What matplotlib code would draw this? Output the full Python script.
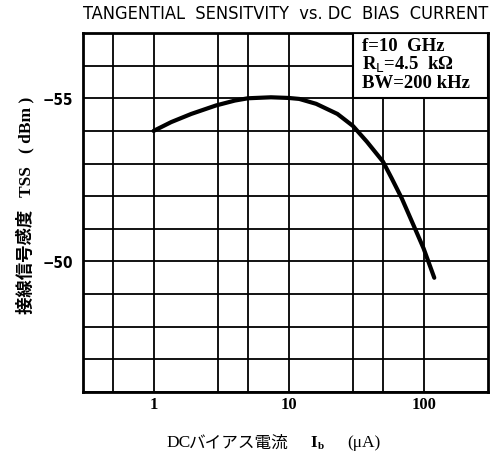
import matplotlib
matplotlib.use("Agg")
import matplotlib.pyplot as plt
from matplotlib.patches import Rectangle

# Data
bias_current_uA = [1, 1.35, 1.9, 2.9, 4, 5, 7.4, 10, 12, 16, 23, 30, 38, 50,
                   58, 69, 82, 100, 120]
tss_dbm = [-54.0, -54.27, -54.52, -54.78, -54.93, -55.0, -55.03, -55.01,
           -54.98, -54.83, -54.52, -54.15, -53.67, -53.06, -52.55, -51.93,
           -51.22, -50.4, -49.5]

x_major = [1, 10, 100]
x_major_labels = ["1", "10", "100"]
x_minor = [0.5, 3, 5, 30, 50]
y_major = [-55, -50]
y_major_labels = ["\u221255", "\u221250"]
y_minor = [-57, -56, -54, -53, -52, -51, -49, -48, -47, -46]

title = "TANGENTIAL  SENSITVITY  vs. DC  BIAS  CURRENT"
ylabel = "接線信号感度   TSS   ( dBm )"
cond_lines = ["f=10  GHz", "R$_\\mathrm{L}$=4.5  k\u03a9", "BW=200 kHz"]

W, H = 492, 456
fig = plt.figure(figsize=(W / 100, H / 100), dpi=100)
ax = fig.add_axes([83 / W, 1 - 393 / H, (488 - 83) / W, (393 - 34) / H])

ax.set_xscale("log")
ax.set_xlim(0.3, 300)
ax.set_ylim(-46, -57)

ax.set_xticks(x_major)
ax.set_xticklabels(x_major_labels)
ax.set_xticks(x_minor, minor=True)
ax.set_yticks(y_major)
ax.set_yticklabels(y_major_labels)
ax.set_yticks(y_minor, minor=True)
ax.tick_params(which="both", length=0)
ax.tick_params(axis="x", pad=3)
ax.tick_params(axis="y", pad=7)
for lab in ax.get_xticklabels():
    lab.set_fontfamily("Liberation Serif")
    lab.set_fontweight("bold")
    lab.set_fontsize(12)
for lab in ax.get_yticklabels():
    lab.set_fontfamily("DejaVu Sans")
    lab.set_fontstretch("condensed")
    lab.set_fontweight("bold")
    lab.set_fontsize(11)

ax.set_axisbelow(True)
ax.grid(which="both", color="black", linewidth=1.3)
for s in ax.spines.values():
    s.set_linewidth(2)

ax.plot(bias_current_uA, tss_dbm, color="black", linewidth=3, zorder=4,
        solid_capstyle="round", solid_joinstyle="round")

# condition box (upper right)
ax.add_patch(Rectangle((30, -57), 270, 2, facecolor="white", edgecolor="black",
                       linewidth=1.5, zorder=3))
ax.text((362 - 83) / (488 - 83), 1 - (38 - 34) / (393 - 34),
        "\n".join(cond_lines), transform=ax.transAxes,
        ha="left", va="top", fontsize=13.5, fontfamily="Liberation Serif",
        fontweight="bold", linespacing=0.98, zorder=5)

t = fig.text(83 / W, 1 - 14 / H, title, ha="left", va="center",
             fontsize=13, fontfamily="DejaVu Sans", fontstretch="condensed",
             fontweight="medium")
fig.canvas.draw()
w = t.get_window_extent().width
t.set_fontsize(13 * 406 / w)

fig.text(25 / W, 1 - 205 / H, ylabel, rotation=90, ha="center", va="center",
         fontsize=12.5, fontfamily=["Liberation Serif", "Noto Sans CJK JP"],
         fontweight="bold")

# x label pieces
yb = 1 - 443 / H
fig.text(166 / W, yb, "DC", ha="left", va="center", fontsize=12.5,
         fontfamily="Liberation Serif")
fig.text(189 / W, yb, "バイアス電流", ha="left", va="center", fontsize=12,
         fontfamily="Noto Sans CJK JP")
fig.text(310 / W, yb, "I", ha="left", va="center", fontsize=12.5,
         fontfamily="Liberation Serif", fontweight="bold")
fig.text(318 / W, yb - 4 / H, "b", ha="left", va="center", fontsize=8,
         fontfamily="Liberation Serif", fontweight="bold")
fig.text(347 / W, yb, "(\u03bcA)", ha="left", va="center", fontsize=12.5,
         fontfamily="Liberation Serif")

fig.savefig("out.png", dpi=100)
